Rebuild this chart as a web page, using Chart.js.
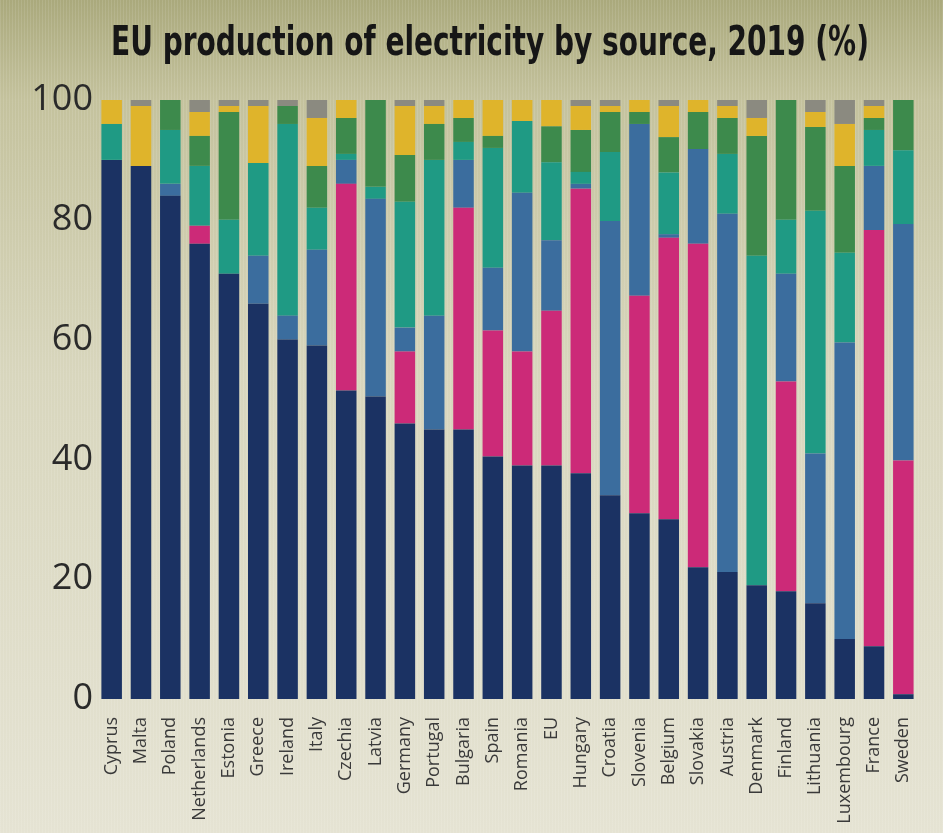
<!doctype html>
<html lang="en">
<head>
    <meta charset="UTF-8">
    <title>EU production of electricity by source, 2019</title>
    <script src="https://cdn.jsdelivr.net/npm/chart.js"></script>
    <style>
        body {
            margin: 0;
            background:
                repeating-linear-gradient(90deg, rgba(255,255,255,0.10) 0 1px, rgba(0,0,0,0) 1px 3px),
                linear-gradient(to bottom, #aaa97c 0%, #c4c29d 12%, #d8d6bd 45%, #e5e3d3 100%);
        }
        #wrap { width: 943px; height: 833px; position: relative; overflow: hidden; }
        #title {
            position: absolute; top: 21px; left: 490px;
            white-space: nowrap;
            font: bold 40px/40px "DejaVu Sans", sans-serif;
            color: #161616;
            transform: translateX(-50%) scaleX(0.70);
        }
    </style>
</head>
<body>
    <div id="wrap">
        <div id="title">EU production of electricity by source, 2019 (%)</div>
        <canvas id="energyChart"></canvas>
    </div>
    <script>
        const countries = ['Cyprus', 'Malta', 'Poland', 'Netherlands', 'Estonia', 'Greece', 'Ireland', 'Italy',
            'Czechia', 'Latvia', 'Germany', 'Portugal', 'Bulgaria', 'Spain', 'Romania', 'EU', 'Hungary',
            'Croatia', 'Slovenia', 'Belgium', 'Slovakia', 'Austria', 'Denmark', 'Finland', 'Lithuania',
            'Luxembourg', 'France', 'Sweden'];

        // shares in %
        const fossil  = [90, 89, 84, 76, 71, 66, 60, 59, 51.5, 50.5, 46, 45, 45, 40.5, 39, 39, 37.7, 34, 31, 30, 22, 21.2, 19, 18, 16, 10, 8.8, 0.8];
        const nuclear = [0, 0, 0, 3, 0, 0, 0, 0, 34.5, 0, 12, 0, 37, 21, 19, 25.8, 47.5, 0, 36.3, 47, 54, 0, 0, 35, 0, 0, 69.5, 39];
        const hydro   = [0, 0, 2, 0, 0, 8, 4, 16, 4, 33, 4, 19, 8, 10.5, 26.5, 11.8, 0.8, 45.8, 28.7, 0.6, 15.8, 59.8, 0, 18, 25, 49.5, 10.7, 39.5];
        const wind    = [6, 0, 9, 10, 9, 15.5, 32, 7, 1, 2, 21, 26, 3, 20, 12, 13, 2, 11.5, 0, 10.3, 0, 10, 55, 9, 40.5, 15, 6, 12.3];
        const biofuel = [0, 0, 5, 5, 18, 0, 3, 7, 6, 14.5, 7.8, 6, 4, 2, 0, 6, 7, 6.7, 2, 5.9, 6.2, 6, 20, 20, 14, 14.5, 2, 8.4];
        const solar   = [4, 10, 0, 4, 1, 9.5, 0, 8, 3, 0, 8.2, 3, 3, 6, 3.5, 4.4, 4, 1, 2, 5.2, 2, 2, 3, 0, 2.5, 7, 2, 0];
        const other   = [0, 1, 0, 2, 1, 1, 1, 3, 0, 0, 1, 1, 0, 0, 0, 0, 1, 1, 0, 1, 0, 1, 3, 0, 2, 4, 1, 0];

        const yTicks = [0, 20, 40, 60, 80, 100];

        function layer(label, data, color) {
            return { label: label, data: data, backgroundColor: color, borderWidth: 0,
                     barPercentage: 0.7, categoryPercentage: 1.0 };
        }

        const ctx = document.getElementById('energyChart').getContext('2d');
        new Chart(ctx, {
            type: 'bar',
            data: {
                labels: countries,
                datasets: [
                    layer('Fossil fuels', fossil, '#1b3263'),
                    layer('Nuclear', nuclear, '#cc2a78'),
                    layer('Hydro', hydro, '#3b6d9e'),
                    layer('Wind', wind, '#1f9a84'),
                    layer('Biofuels', biofuel, '#3d8a4c'),
                    layer('Solar', solar, '#dfb42b'),
                    layer('Other', other, '#8b8a80')
                ]
            },
            options: {
                responsive: true,
                maintainAspectRatio: false,
                animation: false,
                layout: { padding: { top: 100, right: 4, bottom: 0, left: 0 } },
                plugins: {
                    legend: { display: false },
                    tooltip: { enabled: false },
                    title: { display: false }
                },
                scales: {
                    x: {
                        stacked: true,
                        grid: { display: false, drawTicks: false },
                        border: { display: false },
                        ticks: {
                            autoSkip: false, minRotation: 90, maxRotation: 90, padding: 18,
                            color: '#3a3a3a',
                            font: { family: '"Open Sans", sans-serif', size: 18 }
                        },
                        afterFit: s => { s.height = 134; }
                    },
                    y: {
                        stacked: true,
                        min: 0, max: 100,
                        afterBuildTicks: s => { s.ticks = yTicks.map(v => ({ value: v })); },
                        grid: { display: false, drawTicks: false },
                        border: { display: false },
                        ticks: {
                            padding: 4,
                            color: '#2a2a2a',
                            font: { family: '"Open Sans", sans-serif', size: 36 }
                        },
                        afterFit: s => { s.width = 97; }
                    }
                }
            }
        });
    </script>
</body>
</html>
